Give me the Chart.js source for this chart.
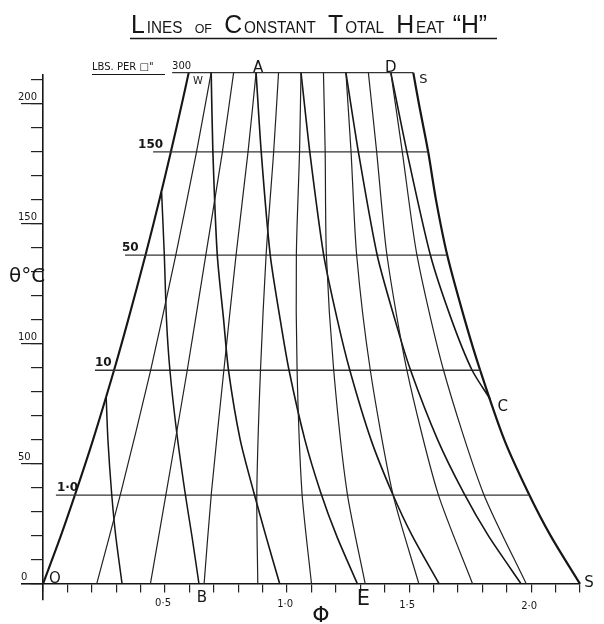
<!DOCTYPE html>
<html>
<head>
<meta charset="utf-8">
<script src="https://cdn.jsdelivr.net/npm/chart.js@4.4.1/dist/chart.umd.min.js"></script>
<style>
body { margin: 0; background: #fff; }
canvas { display: block; }
</style>
</head>
<body>
<canvas id="myCanvas" width="604" height="624"></canvas>
<script>
// saturation lines (phi, theta)
var satTheta = [0, 20, 38, 60, 89, 110, 137, 160, 180, 200, 213];
var waterPhi = [0, 0.073, 0.134, 0.205, 0.291, 0.349, 0.420, 0.477, 0.524, 0.569, 0.597];
var steamPhi = [2.20, 2.08, 1.988, 1.89, 1.791, 1.728, 1.656, 1.61, 1.578, 1.54, 1.517];

// lines of constant dryness 0.1 .. 0.9
var dryTheta = [0, 38, 89, 137, 180, 213];
var dry1 = [0.220, 0.319, 0.441, 0.544, 0.629, 0.689];
var dry2 = [0.440, 0.505, 0.591, 0.667, 0.735, 0.781];
var dry3 = [0.660, 0.690, 0.741, 0.791, 0.840, 0.873];
var dry4 = [0.880, 0.876, 0.891, 0.914, 0.945, 0.965];
var dry5 = [1.100, 1.061, 1.041, 1.038, 1.051, 1.057];
var dry6 = [1.320, 1.246, 1.191, 1.161, 1.156, 1.149];
var dry7 = [1.540, 1.432, 1.341, 1.285, 1.262, 1.241];
var dry8 = [1.760, 1.617, 1.491, 1.409, 1.367, 1.333];
var dry9 = [1.980, 1.803, 1.641, 1.532, 1.472, 1.425];

// lines of constant total heat H
var heatTheta = [213, 180, 137, 110, 89, 60, 38, 20, 0];
var heat1 = [0.689, 0.696, 0.714, 0.740, 0.760, 0.808, 0.864, 0.913, 0.970];
var heatAE = [0.873, 0.894, 0.931, 0.972, 1.008, 1.073, 1.138, 1.203, 1.288];
var heat5 = [1.057, 1.093, 1.150, 1.206, 1.257, 1.344, 1.430, 1.513, 1.623];
var heat7 = [1.241, 1.292, 1.369, 1.442, 1.506, 1.617, 1.723, 1.825, 1.959];
var heatDTheta = [213, 180, 137, 110, 89, 77];
var heatDC = [1.425, 1.491, 1.587, 1.674, 1.758, 1.832];
var heatBTheta = [163, 137, 110, 89, 63, 38, 20, 0];
var heatB = [0.486, 0.497, 0.506, 0.520, 0.548, 0.582, 0.610, 0.639];
var heatLowTheta = [77.5, 60, 38, 20, 0];
var heatLow = [0.259, 0.266, 0.281, 0.298, 0.324];

// pressure lines, lbs per sq. inch
var pressLabels = ['300', '150', '50', '10', '1·0'];
var pressTheta = [213, 180, 137, 89, 37];
var pressStart = [0.529, 0.451, 0.336, 0.213, 0.053];
var pressEnd = [1.517, 1.578, 1.656, 1.791, 1.990];

// tick labels
var yLabelValues = [0, 50, 100, 150, 200];
var xLabelValues = [0.5, 1.0, 1.5, 2.0];
var xLabels = ['0·5', '1·0', '1·5', '2·0'];

var ink = '#161616';

function pts(xs, ys) {
	return xs.map(function(x, i) { return {x: x, y: ys[i]}; });
}
function curve(xs, ys, w, col, t) {
	return {data: pts(xs, ys), borderColor: col, borderWidth: w, tension: t,
		showLine: true, pointRadius: 0, fill: false, clip: false};
}

var datasets = [];
[dry1, dry2, dry3, dry4, dry5, dry6, dry7, dry8, dry9].forEach(function(d) {
	datasets.push(curve(d, dryTheta, 1.2, '#222', 0.25));
});
[heat1, heatAE, heat5, heat7].forEach(function(d) {
	datasets.push(curve(d, heatTheta, 1.6, ink, 0.25));
});
datasets.push(curve(heatDC, heatDTheta, 1.6, ink, 0.25));
datasets.push(curve(heatB, heatBTheta, 1.5, ink, 0.25));
datasets.push(curve(heatLow, heatLowTheta, 1.5, ink, 0.25));
for (var i = 0; i < pressTheta.length; i++) {
	datasets.push(curve([pressStart[i], pressEnd[i]], [pressTheta[i], pressTheta[i]], 1.3, '#333', 0));
}
datasets.push(curve(waterPhi, satTheta, 2.1, ink, 0.3));
datasets.push(curve(steamPhi, satTheta, 2.2, ink, 0.3));

// letters on the diagram: text, phi, theta, dx, dy, size
var marks = [
	['A', 0.873, 213, 2, -1, 15],
	['D', 1.425, 213, 0, -1, 15],
	['W', 0.598, 213, 9, 11, 10],
	['S', 1.517, 213, 10, 10, 13],
	['C', 1.826, 78, 14, 14, 15],
	['S', 2.20, 0, 9, 3, 15],
	['O', 0, 0, 12, -1, 15],
	['B', 0.639, 0, 3, 18, 15],
	['E', 1.288, 0, 6, 21, 21]
];
var pressLabelShift = [0, -15, -3, 0, 1];

var textPlugin = {
	id: 'texts',
	afterDraw: function(chart) {
		var ctx = chart.ctx, sx = chart.scales.x, sy = chart.scales.y;
		ctx.save();
		ctx.fillStyle = ink;
		ctx.strokeStyle = ink;
		ctx.textBaseline = 'alphabetic';

		// title in small capitals
		var pieces = [['L', 26], ['INES', 16], ['  ', 16], ['OF', 13], ['  ', 16], ['C', 26], ['ONSTANT', 16],
			['  ', 16], ['T', 26], ['OTAL', 16], ['  ', 16], ['H', 26], ['EAT', 16], [' ', 16], ['\u201CH\u201D', 26]];
		var total = 0;
		pieces.forEach(function(p) { ctx.font = p[1] + 'px "Liberation Sans"'; total += ctx.measureText(p[0]).width + 2; });
		ctx.save();
		ctx.translate(131, 33);
		ctx.scale(358 / total, 1);
		var px = 0;
		pieces.forEach(function(p) {
			ctx.font = p[1] + 'px "Liberation Sans"';
			ctx.fillText(p[0], px, 0);
			px += ctx.measureText(p[0]).width + 2;
		});
		ctx.restore();
		ctx.lineWidth = 1.6;
		ctx.beginPath(); ctx.moveTo(130, 38.5); ctx.lineTo(497, 38.5); ctx.stroke();

		// pressure unit
		ctx.font = '10px "DejaVu Sans"';
		ctx.textAlign = 'left';
		ctx.fillText('LBS. PER \u25A1"', 92, 70);
		ctx.lineWidth = 1;
		ctx.beginPath(); ctx.moveTo(92, 74.5); ctx.lineTo(165, 74.5); ctx.stroke();

		// pressure labels
		for (var i = 0; i < pressLabels.length; i++) {
			ctx.font = (i == 0 ? '10px' : 'bold 12px') + ' "DejaVu Sans"';
			ctx.fillText(pressLabels[i], sx.getPixelForValue(pressStart[i]) + pressLabelShift[i], sy.getPixelForValue(pressTheta[i]) - 4);
		}

		// y tick labels
		ctx.font = '10px "DejaVu Sans"';
		yLabelValues.forEach(function(v) {
			ctx.fillText(String(v), v == 0 ? 21 : 18, sy.getPixelForValue(v) - 4);
		});
		// x tick labels
		ctx.textAlign = 'center';
		xLabelValues.forEach(function(v, k) {
			ctx.fillText(xLabels[k], sx.getPixelForValue(v) - 2, sy.getPixelForValue(0) + 22 + k);
		});

		// letters
		marks.forEach(function(m) {
			ctx.font = m[5] + 'px "DejaVu Sans"';
			ctx.fillText(m[0], sx.getPixelForValue(m[1]) + m[3], sy.getPixelForValue(m[2]) + m[4]);
		});

		// axis titles
		ctx.font = '22px "DejaVu Sans"';
		ctx.fillText('\u03A6', 321, 622);
		ctx.textAlign = 'left';
		ctx.font = '20px "DejaVu Sans"';
		ctx.fillText('\u03B8\u00B0C', 9, 282);
		ctx.restore();
	}
};

var ctx = document.getElementById('myCanvas').getContext('2d');
var myChart = new Chart(ctx, {
	type: 'scatter',
	data: { datasets: datasets },
	plugins: [textPlugin],
	options: {
		responsive: false,
		animation: false,
		layout: { padding: { left: 22, right: 24, top: 75, bottom: 24 } },
		plugins: { legend: { display: false }, tooltip: { enabled: false } },
		scales: {
			x: {
				type: 'linear', min: -0.086, max: 2.2, position: { y: 0 },
				afterFit: function(s) { s.height = 0; },
				ticks: { display: false, stepSize: 0.1, includeBounds: false },
				grid: { drawOnChartArea: false, tickLength: 8, color: '#222', lineWidth: 1.2 },
				border: { color: ink, width: 1.6 }
			},
			y: {
				type: 'linear', min: -6.7, max: 212, position: { x: 0 },
				afterFit: function(s) { s.width = 0; },
				ticks: { display: false, stepSize: 10, includeBounds: false },
				grid: { drawOnChartArea: false, tickLength: 11, color: '#222', lineWidth: 1.2 },
				border: { color: ink, width: 1.6 }
			},
			y2: {
				type: 'linear', min: -6.7, max: 212, position: { x: 0 },
				afterFit: function(s) { s.width = 0; },
				ticks: { display: false, stepSize: 50, includeBounds: false },
				grid: { drawOnChartArea: false, tickLength: 22, color: '#222', lineWidth: 1.2 },
				border: { display: false }
			}
		}
	}
});
</script>
</body>
</html>
